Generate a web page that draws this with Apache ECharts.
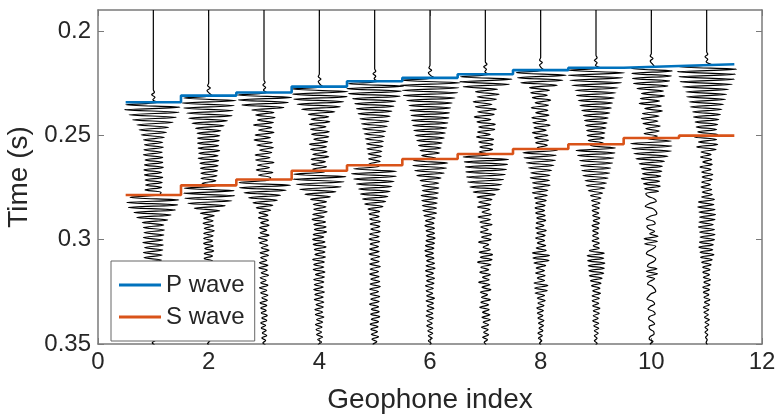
<!DOCTYPE html>
<html>
<head>
<meta charset="utf-8">
<script src="https://cdn.jsdelivr.net/npm/echarts@6/dist/echarts.min.js"></script>
<style>
  html, body { margin: 0; padding: 0; background: #fff; }
  #chart { width: 775px; height: 417px; }
</style>
</head>
<body>
<div id="chart"></div>
<script>
// Geophone positions and picked first-arrival times (s)
const geophones = [1, 2, 3, 4, 5, 6, 7, 8, 9, 10, 11];
const pWavePick = [0.2342, 0.2310, 0.2295, 0.2267, 0.2241, 0.2225, 0.2208, 0.2188, 0.2177, 0.2168, 0.2160];
const sWavePick = [0.2786, 0.2740, 0.2712, 0.2670, 0.2644, 0.2614, 0.2590, 0.2566, 0.2543, 0.2513, 0.2502];

// Axis ranges and ticks
const timeMin = 0.19;
const timeMax = 0.35;
const timeTicks = [0.2, 0.25, 0.3, 0.35];
const indexMin = 0;
const indexMax = 12;
const indexStep = 2;

// Seismogram samples: first sample time per trace, sample interval (s),
// amplitudes in hundredths of the geophone spacing
const sampleStep = 0.0012;
const traceStart = [0.2282, 0.2250, 0.2235, 0.2207, 0.2181, 0.2165, 0.2148, 0.2128, 0.2117, 0.2108, 0.2100];

const trace01 = [0, 2, -3, 3, -1,
  8, -50, 48, -52, 47, -44, 42, -38, 36, -30, 28, -26, 24, -22, 20,
  -18, 17, -16, 18, -17, 16, -18, 17, -15, 17, -16, 18, -17, 15, -16, 17, -15, 16, -14, 15, -15, 14,
  10, -42, 46, -48, 44, -45, 40, -35, 32, -30, 26,
  -20, 19, -18, 20, -17, 19, -18, 17, -19, 18, -16, 17, -18, 16, -17, 15,
  -15, 14, -13, 15, -12, 13, -11, 12, -10, 11, -9, 10, -8, 9, -8, 7, -8, 7, -6, 7, -6, 5, -6, 5, -4, 5, -4, 3, -4, 3, -3, 4, -2,
  2, -1, 0];
const trace02 = [0, -2, 3, -3, 1,
  6, -45, 50, -48, 46, -45, 44, -40, 42, -36, 34, -30, 28,
  -24, 22, -21, 20, -20, 19, -20, 18, -19, 20, -18, 17, -19, 18, -16, 17, -15, 16, -14, 15, -14,
  13, -12,
  14, -44, 46, -45, 47, -43, 42, -38, 30, -26, 20, -15,
  10, -9, 8, -10, 9, -8, 10, -9, 8, -9, 7, -9, 8, -7, 9, -8, 7, -8,
  7, -6, 7, -6, 5, -7, 6, -5, 6, -5, 5, -6, 4, -5, 5, -4, 5, -4, 3, -5, 4, -3, 4, -3, 3, -4, 3, -2, 3, -3, 2, -3, 2,
  -2, 1, 0];
const trace03 = [0, 2, -2, 3, -1,
  5, -48, 50, -46, 44, -40, 36,
  -22, 18, -15, 20, -12, 17, -19, 14, -10, 18, -16, 12, -18, 15, -13, 17, -8, 14, -16, 11, -15, 18, -12, 10, -14, 16, -10, 12,
  8, -45, 48, -44, 40, -36, 30, -28, 24, -20, 16, -14, 12,
  -9, 7, -10, 8, -6, 9, -8, 5, -7, 9, -10, 6, -8, 7, -5, 9, -7, 8, -6, 5, -8, 7, -9, 6, -5, 8, -7, 4, -6, 7, -8, 5, -6, 7, -4, 6, -7, 5, -6, 4, -5, 6, -4, 5, -6, 3, -5, 4, -3, 5, -4, 3, -2,
  3, -1, 0];
const trace04 = [0, -2, 3, -2, 1,
  6, -50, 52, -48, 50, -46, 44, -40, 38, -32, 28,
  -20, 17, -15, 19, -18, 12, -16, 18, -14, 17, -10, 15, -18, 13, -16, 14, -12, 17, -15, 11, -14, 13, -12,
  10, -46, 48, -47, 45, -42, 40, -36, 30, -26, 20, -16,
  13, -11, 12, -10, 14, -12, 9, -13, 11, -10, 12, -9, 13, -11, 8, -12, 10, -11, 12, -9, 10, -8, 11, -12, 9, -10, 8, -11, 10, -7, 9, -10, 8, -9, 7, -10, 9, -8, 7, -9, 8, -6, 7, -8, 6, -7, 8, -5, 6, -7, 5, -6, 4, -5, 6, -3, 4, -2, 0,
  1, 0];
const trace05 = [0, 2, -3, 2, -1,
  6, -48, 52, -50, 48, -47, 46,
  -40, 38, -36, 35, -33, 31, -30, 28, -27, 26, -24, 23, -22, 20,
  -19, 18, -17, 16, -15, 15, -14, 13, -12, 12, -11, 10, -10,
  8, -38, 40, -42, 39, -38, 35, -33, 31, -29, 28, -26, 24, -22, 20, -18, 15, -12,
  9, -10, 8, -9, 10, -8, 9, -7, 10, -9, 8, -10, 9, -8, 7, -9, 8, -10, 9, -7, 8, -9, 10, -8, 7, -9, 8, -7, 9, -8, 10, -9, 7, -8, 9, -7, 8, -9, 7, -6, 8, -7, 9, -6, 7, -8, 6, -7, 5, -6, 7, -5, 4, -3, 2, 0,
  1, 0];
const trace06 = [0, -2, 3, -3, 1,
  8, -52, 55, -54, 52, -50, 50, -48,
  45, -42, 40, -38, 37, -36, 35, -34, 34, -33, 32, -31, 30, -29, 28, -27, 26,
  -24, 22, -21, 20, -18, 17, -15,
  10, -30, 32, -31, 30, -28, 26, -24,
  20, -18, 16, -15, 16, -14, 15, -16, 14, -15, 13, -14, 12, -13, 12, -11,
  9, -8, 7, -9, 8, -7, 8, -6, 9, -7, 8, -8, 7, -9, 6, -8, 7, -6, 8, -7, 9, -8, 6, -7, 8, -6, 7, -8, 6, -7, 5, -6, 8, -7, 6, -5, 7, -6, 5, -7, 6, -5, 4, -6, 5, -4, 5, -3, 4, -3, 2, -1, 0,
  1, 0];
const trace07 = [0, 3, -3, 2, -1,
  6, -45, 48, -46, 44, -40,
  22, -18, 25, -15, 20, -22, 12, -18, 20, -14, 16, -20, 10, -15, 18, -12, 17, -14, 9, -16, 15, -12, 14, -10, 13, -11,
  8, -40, 42, -38, 40, -36, 38, -35, 36, -34, 33, -32, 30, -28, 26,
  -22, 18, -15, 12,
  -12, 10, -14, 8, -6, 11, -13, 9, -10, 12, -8, 5, -9, 11, -7, 10, -12, 6, -4, 9, -11, 13, -9, 12, -14, 10, -8, 6, -10, 9, -5, 7, -12, 8, -6, 10, -9, 4, -7, 9, -8, 6, -10, 7, -5, 8, -6, 9, -4, 6, -7, 5, -3, 6, -5, 4, -2, 1, 0,
  1, 0];
const trace08 = [0, -2, 3, -2, 1,
  6, -44, 46, -42, 40, -36, 30,
  -20, 16, -18, 12, -15, 18, -10, 14, -17, 13, -9, 15, -16, 11, -14, 17, -12, 10, -15, 13, -11, 14, -9, 12,
  -6, 30, -32, 28, -30, 27, -26, 24, -22, 20,
  -18, 17, -19, 16, -15, 17, -14, 13, -15, 12, -11,
  10, -9, 8, -10, 7, -9, 8, -7, 9, -8, 6, -9, 10, -7, 8, -9, 7, -6, 9, -8, 10,
  -15, 16, -14, 15, -12,
  9, -8, 7, -9, 8, -6, 7,
  -12, 13, -11, 12, -10,
  7, -6, 8, -5, 6, -7, 5, -6, 4, -5, 6, -4, 5, -3, 4, -5, 3, -4, 2, -2, 1, 0,
  1, 0];
const trace09 = [0, 2, -3, 2, -1,
  8, -50, 52, -50, 48, -47, 46, -44,
  40, -38, 36, -35, 33, -32, 30, -29, 28, -26, 25, -23, 22, -21, 20, -19, 18, -17, 16, -16, 15, -14, 13,
  -10, 35, -36, 34, -33, 32, -30, 30, -28, 27, -26, 25, -24,
  22, -20, 19, -18, 16, -14, 12, -10, 9, -8, 7,
  -7, 6, -7, 5, -6, 7, -5, 6, -7, 5, -6, 4, -6, 5, -7, 6, -5, 6,
  -12, 15, -16, 14, -15, 16, -14, 15, -13, 14, -12, 11, -10, 9,
  -8, 7, -6, 8, -7, 6, -7, 5, -6, 7, -5, 6, -5, 4, -6, 5, -4, 5, -3, 4, -3, 2, -3, 2, -1, 0,
  1, 0];
const trace10 = [0, -2, 3, -2, 1,
  5, -36, 38, -35, 36, -34, 33, -32, 30,
  -26, 22, -18, 24, -20, 15, -22, 18, -12, 20, -16, 14, -18, 12, -15, 16, -10, 14, -13, 11,
  -8, 36, -38, 37, -35, 36, -32, 30, -28,
  24, -22, 20, -18, 19, -16, 17, -18, 15, -14, 16, -12, 13,
  -10, -6, 5, 9, -4, -11, 3, 8, 10, -2, -9, 4, 7, -8, -5, 6, -3,
  12, -13, 11, -12, 8,
  3, -6, -9, 2, 8, 5, -4, -7,
  10, -9, 11, -8, 6,
  -3, -7, 2, 6, 8, -1, -5, -8, 3, 6, -2, -6, 4, 7, -3, -5, 2, 6, -4, -3, 4, 5, -2, -4, 3, -2, 1, 0,
  1, 0];
const trace11 = [0, 2, -3, 2, -1,
  8, -50, 54, -53, 52, -50, 50, -48, 46, -44,
  40, -38, 36, -36, 34, -32, 31, -30, 28, -26, 25, -24, 22, -21, 20, -19, 18, -16,
  20, -22, 18, -15, 20, -18, 17,
  -10, 8, -11, 9, -7, 10, -12, 8, -9, 11, -8, 10, -9, 7, -10, 9, -8, 10, -9,
  14, -15, 13, -16, 15, -14, 16, -13, 15, -14, 12, -15, 14, -13, 15, -12, 14, -13, 12, -14, 11, -12, 13, -11, 10, -9, 8,
  -7, 6, -7, 5, -6, 7, -5, 6, -7, 5, -6, 4, -5, 6, -4, 5, -6, 4, -5, 3, -4, 5, -3, 4, -3, 2, -3, 2, -2, 1, -1, 1, 0,
  1, 0];

const traces = [trace01, trace02, trace03, trace04, trace05, trace06,
                trace07, trace08, trace09, trace10, trace11];

const FONT = "'Liberation Sans', Arial, Helvetica, sans-serif";
const TEXT = '#262626';
const BOX = '#7a7a7a';

// Wiggle trace for one geophone: a flat line from the top of the window,
// then the recorded samples offset around the geophone position
function traceSeries(g, idx) {
  const amp = traces[idx];
  const pts = [[g, timeMin]];
  for (let k = 0; k < amp.length; k++) {
    pts.push([g + amp[k] / 100, traceStart[idx] + k * sampleStep]);
  }
  return {
    name: 'Geophone ' + g,
    type: 'line',
    data: pts,
    showSymbol: false,
    smooth: 0.35,
    silent: true,
    z: 2,
    lineStyle: { color: '#000', width: 1.2 },
    clip: true
  };
}

// Stair line of picks: one horizontal step per geophone, centred on it
function pickSeries(name, picks, color) {
  const pts = [];
  geophones.forEach((g, i) => {
    pts.push([g - 0.5, picks[i]]);
    pts.push([g + 0.5, picks[i]]);
  });
  return {
    name: name,
    type: 'line',
    data: pts,
    showSymbol: false,
    silent: true,
    z: 3,
    lineStyle: { color: color, width: 2.6 },
    itemStyle: { color: color }
  };
}

const series = geophones.map((g, i) => traceSeries(g, i));
series.push(pickSeries('P wave', pWavePick, '#0072BD'));
series.push(pickSeries('S wave', sWavePick, '#D95319'));

const fmtTime = v => String(parseFloat(v.toFixed(2)));

const chart = echarts.init(document.getElementById('chart'), null, { renderer: 'canvas' });
chart.setOption({
  animation: false,
  backgroundColor: '#fff',
  grid: { left: 98, right: 13, top: 10, bottom: 73, containLabel: false, outerBoundsMode: 'none' },
  legend: {
    data: ['P wave', 'S wave'],
    orient: 'vertical',
    left: 111,
    top: 261,
    padding: [8, 10, 8, 8],
    itemGap: 0,
    itemWidth: 42,
    itemHeight: 3,
    icon: 'rect',
    backgroundColor: '#fff',
    borderColor: '#666',
    borderWidth: 1,
    borderRadius: 0,
    selectedMode: false,
    textStyle: { fontFamily: FONT, fontSize: 24, color: TEXT, lineHeight: 32 }
  },
  xAxis: [{
    type: 'value',
    position: 'bottom',
    min: indexMin, max: indexMax, interval: indexStep,
    name: 'Geophone index',
    nameLocation: 'middle',
    nameGap: 42,
    nameTextStyle: { fontFamily: FONT, fontSize: 28, color: TEXT },
    axisLine: { show: true, onZero: false, lineStyle: { color: BOX, width: 1.5 } },
    axisTick: { show: true, inside: true, length: 6, lineStyle: { color: BOX } },
    axisLabel: { fontFamily: FONT, fontSize: 24, color: TEXT, margin: 6 },
    splitLine: { show: false }
  }, {
    type: 'value',
    position: 'top',
    min: indexMin, max: indexMax, interval: indexStep,
    axisLine: { show: true, onZero: false, lineStyle: { color: BOX, width: 1.5 } },
    axisTick: { show: true, inside: true, length: 6, lineStyle: { color: BOX } },
    axisLabel: { show: false },
    splitLine: { show: false }
  }],
  yAxis: [{
    type: 'value',
    position: 'left',
    inverse: true,
    min: timeMin, max: timeMax,
    name: 'Time (s)',
    nameLocation: 'middle',
    nameGap: 49,
    nameTextStyle: { fontFamily: FONT, fontSize: 28, color: TEXT },
    axisLine: { show: true, onZero: false, lineStyle: { color: BOX, width: 1.5 } },
    axisTick: { show: true, inside: true, length: 6, customValues: timeTicks, lineStyle: { color: BOX } },
    axisLabel: { fontFamily: FONT, fontSize: 24, color: TEXT, margin: 7,
                 customValues: timeTicks, formatter: fmtTime },
    splitLine: { show: false }
  }, {
    type: 'value',
    position: 'right',
    inverse: true,
    min: timeMin, max: timeMax,
    axisLine: { show: true, onZero: false, lineStyle: { color: BOX, width: 1.5 } },
    axisTick: { show: true, inside: true, length: 6, customValues: timeTicks, lineStyle: { color: BOX } },
    axisLabel: { show: false },
    splitLine: { show: false }
  }],
  series: series
});
</script>
</body>
</html>
